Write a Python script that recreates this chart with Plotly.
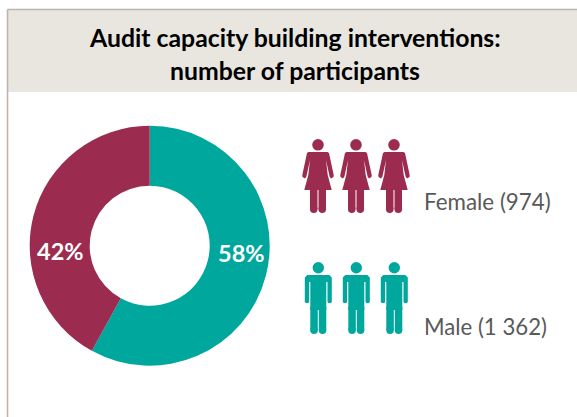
import plotly.graph_objects as go

# Shares of participants, and the head counts shown beside the pictograms
categories = ["Male", "Female"]
share_values = [58, 42]
colors = ["#00A79D", "#9B2C50"]
legend_labels = ["Female (974)", "Male (1 362)"]
title_lines = ["Audit capacity building interventions:", "number of participants"]

W, H = 577, 417
shares = [f"{v}%" for v in share_values]


def px(x):
    return x / W


def py(y):
    return 1 - y / H


def path(points):
    return "M" + " L".join(f"{px(x):.5f},{py(y):.5f}" for x, y in points) + " Z"


def circle(cx, cy, r, color):
    return dict(type="circle", xref="paper", yref="paper", line_width=0, fillcolor=color,
                x0=px(cx - r), x1=px(cx + r), y0=py(cy + r), y1=py(cy - r))


def poly(points, color):
    return dict(type="path", xref="paper", yref="paper", line_width=0, fillcolor=color, path=path(points))


def rounded_limb(x0, x1, y0, y1, color):
    """A vertical bar with a round lower end."""
    r = (x1 - x0) / 2
    return [poly([(x0, y0), (x1, y0), (x1, y1 - r), (x0, y1 - r)], color),
            circle((x0 + x1) / 2, y1 - r, r, color)]


def female(cx, top, color):
    right = [(9.5, 13), (11, 14), (15.7, 36), (15.5, 38), (13, 39.5), (11.6, 37.5),
             (8, 21), (9.7, 36), (13.7, 51)]
    pts = [(cx + x, top + y) for x, y in right] + [(cx - x, top + y) for x, y in reversed(right)]
    s = [circle(cx, top + 5.8, 5.8, color), poly(pts, color)]
    s += rounded_limb(cx - 8, cx - 0.5, top + 50, top + 74, color)
    s += rounded_limb(cx + 0.5, cx + 8, top + 50, top + 74, color)
    return s


def male(cx, top, color):
    s = [circle(cx, top + 5.7, 5.7, color)]
    s.append(poly([(cx - 11, top + 13), (cx + 11, top + 13), (cx + 13.5, top + 15.5),
                   (cx + 13.5, top + 40), (cx + 12.5, top + 41), (cx + 10, top + 41), (cx + 9.2, top + 40),
                   (cx + 9.2, top + 20), (cx + 8, top + 20), (cx + 8, top + 48), (cx - 8, top + 48),
                   (cx - 8, top + 20), (cx - 9.2, top + 20), (cx - 9.2, top + 40), (cx - 10, top + 41),
                   (cx - 12.5, top + 41), (cx - 13.5, top + 40), (cx - 13.5, top + 15.5)], color))
    s += rounded_limb(cx - 8, cx - 0.5, top + 45, top + 72, color)
    s += rounded_limb(cx + 0.5, cx + 8, top + 45, top + 72, color)
    return s


shapes = [
    # Header band and frame
    dict(type="rect", xref="paper", yref="paper", line_width=0, fillcolor="#E8E6DF", layer="below",
         x0=px(8), x1=1, y0=py(92), y1=py(10)),
    dict(type="line", xref="paper", yref="paper", line=dict(color="#BDB4AE", width=1.6),
         x0=px(7.5), x1=px(7.5), y0=0, y1=py(9.5)),
    dict(type="line", xref="paper", yref="paper", line=dict(color="#BDB4AE", width=1.6),
         x0=px(7.5), x1=1, y0=py(9.5), y1=py(9.5)),
]
for cx in (318, 356, 394):
    shapes += female(cx, 139, colors[1])
for cx in (318.3, 356.3, 394.3):
    shapes += male(cx, 262, colors[0])

fig = go.Figure(go.Pie(
    labels=categories,
    values=share_values,
    sort=False,
    direction="clockwise",
    rotation=0,
    hole=0.5,
    marker=dict(colors=colors, line=dict(width=0)),
    textinfo="none",
    domain=dict(x=[px(29.7), px(269.7)], y=[py(365.7), py(125.7)]),
))

font = "Lato, Carlito, sans-serif"
annotations = [
    dict(x=px(295), y=py(37), text=f"<b>{title_lines[0]}</b>", font=dict(size=24.8, color="#000000")),
    dict(x=px(295), y=py(70), text=f"<b>{title_lines[1]}</b>", font=dict(size=24.8, color="#000000")),
    dict(x=px(241.5), y=py(253), text=f"<b>{shares[0]}</b>", font=dict(size=23.5, color="#FFFFFF")),
    dict(x=px(60), y=py(251), text=f"<b>{shares[1]}</b>", font=dict(size=23.5, color="#FFFFFF")),
    dict(x=px(421.5), y=py(201), xanchor="left", text=legend_labels[0], font=dict(size=22.4, color="#595959")),
    dict(x=px(421.5), y=py(326), xanchor="left", text=legend_labels[1], font=dict(size=22.2, color="#595959")),
]
for a in annotations:
    a.update(xref="paper", yref="paper", showarrow=False)
    a.setdefault("xanchor", "center")
    a["yanchor"] = "middle"

fig.update_layout(
    width=W, height=H,
    margin=dict(l=0, r=0, t=0, b=0),
    paper_bgcolor="#FFFFFF",
    showlegend=False,
    font=dict(family=font),
    shapes=shapes,
    annotations=annotations,
)
fig.write_html("out.html", config=dict(displayModeBar=False))
